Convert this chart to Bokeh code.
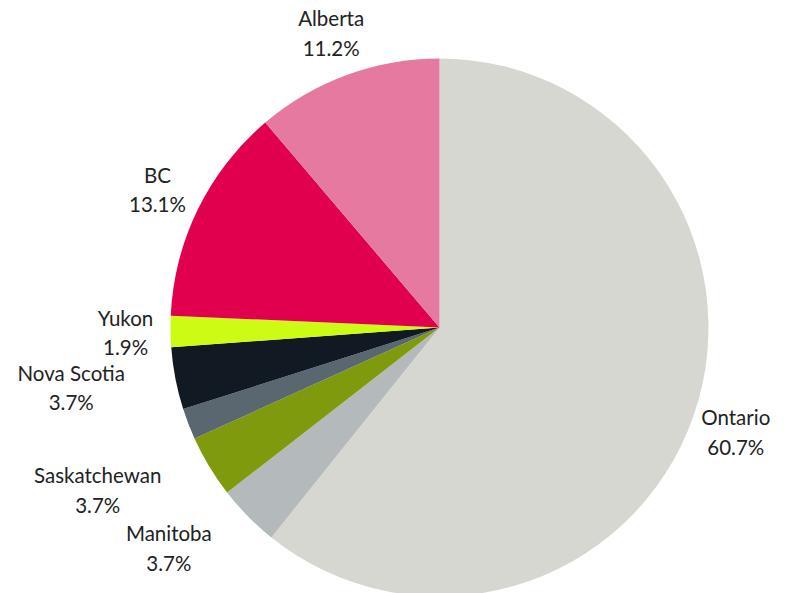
import numpy as np
from bokeh.plotting import figure
from bokeh.models import ColumnDataSource, Range1d
from bokeh.core.properties import value
from bokeh.embed import file_html
from bokeh.resources import INLINE

# Data (clockwise from 12 o'clock)
provinces = ["Ontario", "Manitoba", "Saskatchewan", "Other", "Nova Scotia", "Yukon", "BC", "Alberta"]
counts = [65, 4, 4, 2, 4, 2, 14, 12]
show_label = [True, True, True, False, True, True, True, True]
colors = ["#d7d7d2", "#b4b9bb", "#7f9a0c", "#5a6670", "#111a22", "#ccfc14", "#e0004d", "#e6799f"]

# label nudges (screen px) for labels aligned to their anchor's right edge
label_dx = [0, -47, -73, 0, -60, 0, 0, 0]

W, H = 788, 593
R = 269          # pie radius (px == data units)
R_LABEL = 314    # label anchor radius

counts_arr = np.array(counts, dtype=float)
frac = counts_arr / counts_arr.sum()
theta_end = np.cumsum(frac) * 2 * np.pi          # clockwise from top
theta_start = theta_end - frac * 2 * np.pi
theta_mid = (theta_start + theta_end) / 2

# Bokeh angles: counter-clockwise from +x
start_angle = np.pi / 2 - theta_end
end_angle = np.pi / 2 - theta_start

wedges = ColumnDataSource(dict(start=start_angle, end=end_angle, color=colors, name=provinces))

p = figure(width=W, height=H, output_backend="svg", toolbar_location=None,
           x_range=Range1d(-439, W - 439), y_range=Range1d(-(H - 327), 327),
           x_axis_location=None, y_axis_location=None, min_border=0)
p.grid.visible = False
p.outline_line_color = None
p.background_fill_color = "white"
p.border_fill_color = "white"

p.wedge(x=0, y=0, radius=R, start_angle="start", end_angle="end", direction="anticlock",
        fill_color="color", line_color=None, source=wedges)

idx = [i for i, s in enumerate(show_label) if s]
lx = [R_LABEL * np.sin(theta_mid[i]) for i in idx]
ly = [R_LABEL * np.cos(theta_mid[i]) for i in idx]
names = [provinces[i] for i in idx]
pcts = [f"{100 * frac[i]:.1f}%" for i in idx]
dxs = [label_dx[i] for i in idx]

lab = ColumnDataSource(dict(x=lx, y=ly, name=names, pct=pcts, dx=dxs))

common = dict(text_font=value("Lato"), text_font_size="20.5px", text_color="#222222",
              text_align="center", text_baseline="middle", x_offset="dx", source=lab)
p.text(x="x", y="y", text="name", y_offset=-14.5, **common)
p.text(x="x", y="y", text="pct", y_offset=15, **common)

open("out.html", "w").write(file_html(p, INLINE))
